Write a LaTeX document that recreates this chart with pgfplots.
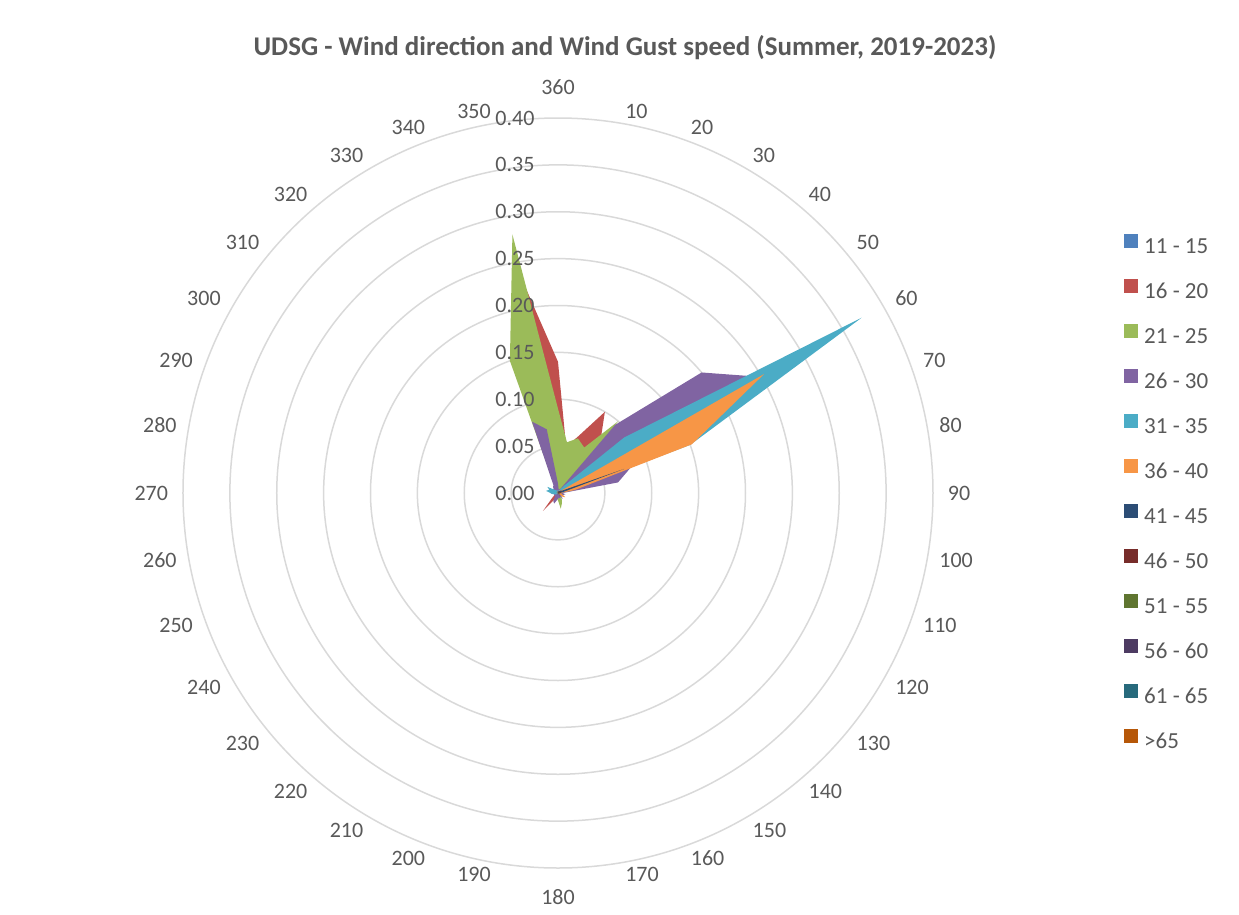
\documentclass[border=0pt]{standalone}
\usepackage{fontspec}
\setmainfont{Carlito}
\usepackage{pgfplots}
\usepgfplotslibrary{polar}
\pgfplotsset{compat=1.18}
\usepackage{pgfplotstable}

\definecolor{txt}{HTML}{595959}
\definecolor{gridc}{HTML}{D9D9D9}
\definecolor{c1}{HTML}{4F81BD}
\definecolor{c2}{HTML}{C0504D}
\definecolor{c3}{HTML}{9BBB59}
\definecolor{c4}{HTML}{8064A2}
\definecolor{c5}{HTML}{4BACC6}
\definecolor{c6}{HTML}{F79646}
\definecolor{c7}{HTML}{2C4D75}
\definecolor{c8}{HTML}{772C2A}
\definecolor{c9}{HTML}{5F7530}
\definecolor{c10}{HTML}{4D3B62}
\definecolor{c11}{HTML}{276A7C}
\definecolor{c12}{HTML}{B65708}

% direction labels hang off a point just outside the ring, like Excel does
\newcommand\R[1]{\smash{\rlap{\raisebox{-7pt}{#1}}}}
\newcommand\Lf[1]{\smash{\llap{\raisebox{-7pt}{#1}}}}
\newcommand\T[1]{\smash{\makebox[0pt]{\raisebox{9pt}{#1}}}}
\newcommand\B[1]{\smash{\makebox[0pt]{\raisebox{-21pt}{#1}}}}

% share of hours per direction (compass degrees) and gust class
\pgfplotstableread{
dir  a     b     c     d     e     f     g     h     i     j     k     l
360  0     0.140 0.090 0.010 0.003 0.002 0.002 0.002 0     0     0.002 0
10   0     0.050 0.055 0.004 0.002 0.002 0     0     0     0     0     0
20   0     0.065 0.062 0.004 0.003 0.002 0.002 0     0     0     0     0
30   0     0.100 0.056 0.005 0.004 0.003 0.002 0     0     0     0     0
40   0.002 0.070 0.100 0.095 0.010 0.004 0.003 0.002 0     0     0     0
50   0     0.030 0.020 0.200 0.092 0.003 0.004 0.002 0     0     0     0
60   0     0.010 0.005 0.248 0.374 0.254 0.005 0.003 0.002 0     0     0
70   0     0.005 0.003 0.084 0.150 0.152 0.075 0.004 0.002 0.002 0     0
80   0     0.003 0.003 0.065 0.010 0.018 0.005 0.003 0     0     0     0
90   0.002 0.003 0.003 0.005 0.003 0.003 0.002 0     0     0     0     0
100  0     0.003 0.003 0.008 0.002 0.004 0     0.002 0     0     0     0.004
110  0     0.003 0.004 0.006 0     0.005 0     0     0     0.003 0     0
120  0     0.004 0.003 0.006 0.002 0.009 0.002 0     0     0     0     0
130  0     0.003 0.004 0.004 0     0.006 0     0     0.003 0     0     0
140  0     0.003 0.006 0.008 0.002 0     0     0     0     0     0     0
150  0     0.004 0.008 0.004 0     0.002 0     0.004 0     0     0     0
160  0     0.003 0.012 0.006 0     0     0     0     0     0     0     0
170  0     0.003 0.017 0.005 0.002 0     0     0     0     0     0     0
180  0     0.004 0.008 0.006 0     0     0     0     0     0     0.002 0
190  0     0.003 0.006 0.008 0     0     0     0     0     0     0     0
200  0.003 0.004 0.004 0.012 0.002 0     0     0     0     0     0     0
210  0     0.008 0.003 0.010 0     0     0     0.002 0     0     0     0
220  0     0.025 0.003 0.005 0     0     0     0     0     0     0     0
230  0     0.008 0.003 0.004 0.002 0     0     0     0     0     0     0
240  0.003 0.004 0.003 0.005 0.003 0     0     0     0     0     0     0
250  0.004 0.003 0.003 0.004 0.004 0     0     0     0     0     0     0
260  0.006 0.003 0.003 0.005 0.006 0     0     0     0     0     0     0
270  0.008 0.004 0.004 0.006 0.008 0.002 0     0     0     0     0     0
280  0.006 0.003 0.003 0.005 0.013 0     0     0     0     0     0     0
290  0.010 0.003 0.004 0.006 0.010 0.002 0     0     0     0     0     0
300  0.003 0.003 0.003 0.008 0.013 0     0.002 0     0     0     0     0
310  0     0.003 0.003 0.006 0.006 0     0     0     0     0     0     0
320  0     0.003 0.003 0.008 0.004 0     0     0     0     0     0     0
330  0     0.003 0.005 0.010 0.003 0     0     0     0     0     0     0
340  0     0.070 0.150 0.081 0.003 0.002 0     0     0     0     0     0
350  0     0.238 0.280 0.069 0.002 0.002 0.002 0     0     0     0     0
360  0     0.140 0.090 0.010 0.003 0.002 0.002 0.002 0     0     0.002 0
}\wind

\begin{document}
\begin{tikzpicture}
\begin{polaraxis}[
  set layers,
  at={(0pt,0pt)}, anchor=center,
  scale only axis, width=750pt, height=750pt,
  xmin=90, xmax=450,
  ymin=0, ymax=0.4,
  x filter/.expression={450-x},
  xtick={90,100,...,440},
  xticklabels={{\T{360}},{\Lf{350}},{\Lf{340}},{\Lf{330}},{\Lf{320}},{\Lf{310}},
    {\Lf{300}},{\Lf{290}},{\Lf{280}},{\Lf{270}},{\Lf{260}},{\Lf{250}},{\Lf{240}},
    {\Lf{230}},{\Lf{220}},{\Lf{210}},{\Lf{200}},{\Lf{190}},{\B{180}},{\R{170}},
    {\R{160}},{\R{150}},{\R{140}},{\R{130}},{\R{120}},{\R{110}},{\R{100}},
    {\R{90}},{\R{80}},{\R{70}},{\R{60}},{\R{50}},{\R{40}},{\R{30}},{\R{20}},{\R{10}}},
  ytick={0,0.05,0.1,0.15,0.2,0.25,0.3,0.35,0.4},
  xmajorgrids=false, ymajorgrids=true,
  grid style={draw=gridc, line width=1.5pt},
  axis line style={draw=none},
  major tick length=0pt,
  tick label style={font=\fontsize{22}{26}\selectfont, text=txt},
  yticklabel style={/pgf/number format/fixed, /pgf/number format/fixed zerofill,
    /pgf/number format/precision=2, /pgf/number format/assume math mode=true,
    anchor=east, xshift=-20pt, /pgfplots/on layer=axis foreground},
  xticklabel style={circle, inner sep=10.6pt, outer sep=0pt},
  legend image code/.code={\fill[#1] (0pt,0pt) rectangle (14pt,14pt);},
  legend cell align=left,
  legend style={at={(axis description cs:1.2547,0.8457)}, anchor=north west,
    draw=none, fill=none, inner sep=0pt, row sep=20.5pt, column sep=6pt,
    font=\fontsize{23}{27}\selectfont, text=txt,
    nodes={inner sep=0pt, text height=16pt, text depth=5pt}},
]
\addplot[fill=c1, draw=none] table[x=dir, y=a] {\wind};
\addlegendentry{11 - 15}
\addplot[fill=c2, draw=none] table[x=dir, y=b] {\wind};
\addlegendentry{16 - 20}
\addplot[fill=c3, draw=none] table[x=dir, y=c] {\wind};
\addlegendentry{21 - 25}
\addplot[fill=c4, draw=none] table[x=dir, y=d] {\wind};
\addlegendentry{26 - 30}
\addplot[fill=c5, draw=none] table[x=dir, y=e] {\wind};
\addlegendentry{31 - 35}
\addplot[fill=c6, draw=none] table[x=dir, y=f] {\wind};
\addlegendentry{36 - 40}
\addplot[fill=c7, draw=none] table[x=dir, y=g] {\wind};
\addlegendentry{41 - 45}
\addplot[fill=c8, draw=none] table[x=dir, y=h] {\wind};
\addlegendentry{46 - 50}
\addplot[fill=c9, draw=none] table[x=dir, y=i] {\wind};
\addlegendentry{51 - 55}
\addplot[fill=c10, draw=none] table[x=dir, y=j] {\wind};
\addlegendentry{56 - 60}
\addplot[fill=c11, draw=none] table[x=dir, y=k] {\wind};
\addlegendentry{61 - 65}
\addplot[fill=c12, draw=none] table[x=dir, y=l] {\wind};
\addlegendentry{>65}
\end{polaraxis}
\node[font=\bfseries\fontsize{27}{32}\selectfont, text=txt] at (67pt,445pt)
  {UDSG - Wind direction and Wind Gust speed (Summer, 2019-2023)};
\path (-558pt,-421pt) rectangle (681pt,493pt);
\end{tikzpicture}
\end{document}
